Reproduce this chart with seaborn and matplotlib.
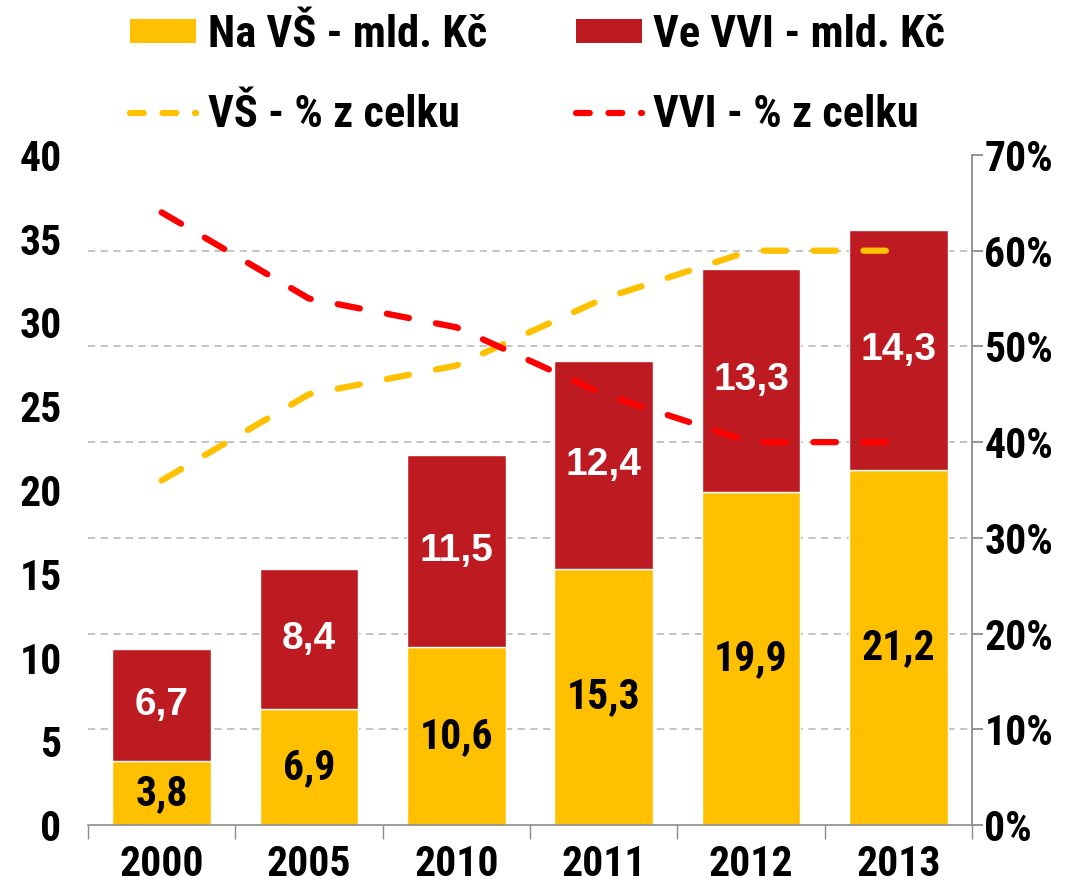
import numpy as np
import pandas as pd
import matplotlib
matplotlib.use("Agg")
import matplotlib.pyplot as plt
from matplotlib import font_manager as fm
from matplotlib.patches import Patch
from matplotlib.lines import Line2D
from matplotlib.ticker import PercentFormatter, FixedLocator
import seaborn as sns

# Data
years = ["2000", "2005", "2010", "2011", "2012", "2013"]
vs_bn = [3.8, 6.9, 10.6, 15.3, 19.9, 21.2]      # Na VŠ - mld. Kč
vvi_bn = [6.7, 8.4, 11.5, 12.4, 13.3, 14.3]     # Ve VVI - mld. Kč
vs_pct = [0.36, 0.45, 0.48, 0.55, 0.60, 0.60]   # VŠ - % z celku
vvi_pct = [0.64, 0.55, 0.52, 0.45, 0.40, 0.40]  # VVI - % z celku

YELLOW = "#FFC000"
DARKRED = "#BE1A22"
RED = "#FF0000"
GRID = "#BFBFBF"
AXIS = "#8C8C8C"

sns.set_theme(style="white")

# pick a narrow bold face if one is installed, otherwise Liberation Sans
installed = {f.name for f in fm.fontManager.ttflist}
narrow_pref = ["Liberation Sans Narrow", "Arial Narrow", "Roboto Condensed",
               "Open Sans Condensed", "DejaVu Sans Condensed"]
found = [n for n in narrow_pref if n in installed]
if found:
    narrow = [found[0], "DejaVu Sans"]
    k = 1.0
else:
    narrow = ["Liberation Sans", "DejaVu Sans"]
    k = 0.85
wide = ["Liberation Sans", "DejaVu Sans"]

plt.rcParams["font.family"] = narrow
plt.rcParams["font.weight"] = "bold"
plt.rcParams["text.color"] = "black"
plt.rcParams["xtick.color"] = "black"
plt.rcParams["ytick.color"] = "black"

tick_size = 30 * k
lab_size = 30 * k
leg_size = 32 * k

df = pd.DataFrame({"year": years, "vs": vs_bn, "vvi": vvi_bn,
                   "vs_pct": vs_pct, "vvi_pct": vvi_pct})
df["pos"] = np.arange(len(df))

fig = plt.figure(figsize=(10.86, 8.88), dpi=100)
ax = fig.add_axes([0.081, 0.0709, 0.814, 0.7546])

sns.barplot(data=df, x="year", y="vs", color=YELLOW, width=0.67,
            saturation=1, ax=ax, zorder=2)
sns.barplot(data=df, x="year", y="vvi", color=DARKRED, width=0.67,
            saturation=1, bottom=df["vs"], ax=ax, zorder=2)

ax.set_ylim(0, 40)
ax.set_xlim(-0.5, len(years) - 0.5)
ax.set_yticks(np.arange(0, 41, 5))
ax.set_xlabel("")
ax.set_ylabel("")

# gridlines at the right-axis (10 %) steps, behind the bars
ax.yaxis.set_minor_locator(FixedLocator(np.arange(0, 0.71, 0.1) * 40 / 0.7))
ax.grid(which="minor", axis="y", color=GRID, linestyle=(0, (4, 3)), linewidth=1.3)
ax.grid(which="major", visible=False)
ax.set_axisbelow(True)

ax.xaxis.set_minor_locator(FixedLocator(np.arange(-0.5, len(years), 1.0)))
ax.tick_params(axis="x", which="minor", length=10, width=1, color=AXIS, direction="out", bottom=True)
ax.tick_params(axis="x", which="major", length=0, pad=14, labelsize=tick_size)
ax.tick_params(axis="y", which="both", length=0, pad=19, labelsize=tick_size)

for s in ["left", "top", "right"]:
    ax.spines[s].set_visible(False)
ax.spines["bottom"].set_color(AXIS)
ax.spines["bottom"].set_linewidth(1.2)

# bar value labels
def fmt(v):
    return f"{v:.1f}".replace(".", ",")

for i, (a, b) in enumerate(zip(vs_bn, vvi_bn)):
    ax.text(i, a / 2, fmt(a), ha="center", va="center", fontsize=lab_size,
            fontweight="bold", color="black", family=narrow, zorder=5)
    ax.text(i, a + b / 2, fmt(b), ha="center", va="center", fontsize=28,
            fontweight="bold", color="white", family=wide, zorder=5)

# share lines on the right axis
ax2 = ax.twinx()
dash = (0, (3.6, 4.4))
sns.lineplot(data=df, x="pos", y="vs_pct", color=YELLOW, linewidth=4.5,
             linestyle=dash, dash_capstyle="round", ax=ax2)
sns.lineplot(data=df, x="pos", y="vvi_pct", color=RED, linewidth=4.5,
             linestyle=dash, dash_capstyle="round", ax=ax2)
ax2.set_ylim(0, 0.7)
ax2.set_yticks(np.arange(0, 0.71, 0.1))
ax2.yaxis.set_major_formatter(PercentFormatter(1.0, decimals=0))
ax2.set_xlabel("")
ax2.set_ylabel("")
ax2.grid(False)
ax2.tick_params(axis="y", length=8, width=1.3, color=AXIS, direction="out", pad=1, labelsize=tick_size)
for s in ["left", "top", "bottom"]:
    ax2.spines[s].set_visible(False)
ax2.spines["right"].set_color(AXIS)
ax2.spines["right"].set_linewidth(1.3)

handles = [
    Patch(facecolor=YELLOW, edgecolor="none"),
    Line2D([0], [0], color=YELLOW, linewidth=4.5, linestyle=(0, (2.2, 3.0)), dash_capstyle="round"),
    Patch(facecolor=DARKRED, edgecolor="none"),
    Line2D([0], [0], color=RED, linewidth=4.5, linestyle=(0, (2.2, 3.0)), dash_capstyle="round"),
]
labels = ["Na VŠ - mld. Kč", "VŠ - % z celku", "Ve VVI - mld. Kč", "VVI - % z celku"]
fig.legend(handles, labels, loc="center", bbox_to_anchor=(0.495, 0.9155), ncol=2,
           frameon=False, prop={"family": narrow, "weight": "bold", "size": leg_size},
           handlelength=1.5, handleheight=0.45, handletextpad=0.25,
           columnspacing=2.0, labelspacing=0.86)

fig.savefig("out.png", dpi=100)
